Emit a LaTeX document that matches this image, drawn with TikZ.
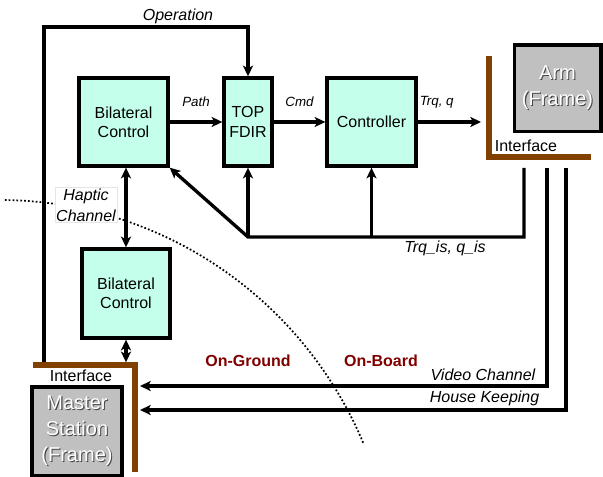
\documentclass[tikz,border=0pt]{standalone}
\usepackage{fontspec}
\setmainfont{Liberation Sans}
\usepackage{xcolor}
\usepackage{tikz}
\usetikzlibrary{arrows.meta}
\usetikzlibrary{positioning, calc}

\definecolor{boxcyan}{RGB}{196,255,236}
\definecolor{framegray}{RGB}{192,192,192}
\definecolor{ifbrown}{RGB}{128,64,0}
\definecolor{sidered}{RGB}{128,0,0}

% white letters with a grey drop shadow
\newcommand{\emb}[1]{\leavevmode\rlap{\hspace{0.8pt}\raisebox{-0.8pt}{\textcolor{gray!55!black}{#1}}}\textcolor{white}{#1}}

\tikzset{
    block/.style={draw, line width=2.5pt, fill=boxcyan, minimum width=66.75pt, minimum height=66pt,
        inner sep=0pt, align=center, font=\fontsize{12}{14.5}\selectfont},
    frame/.style={draw, line width=2.5pt, fill=framegray, minimum width=65pt, minimum height=65pt,
        inner sep=0pt, align=center, font=\fontsize{15}{19.5}\selectfont},
    wire/.style={line width=2.5pt},
    sig/.style={wire, -{Stealth[length=8pt,width=7.5pt,inset=2pt]}},
    bisig/.style={wire, {Stealth[length=8pt,width=7.5pt,inset=2pt]}-{Stealth[length=8pt,width=7.5pt,inset=2pt]}},
    iface/.style={draw=ifbrown, line width=3.8pt},
    lbl/.style={font=\fontsize{12}{15.5}\selectfont\itshape},
    smalllbl/.style={font=\fontsize{10}{12}\selectfont\itshape},
    side/.style={text=sidered, font=\fontsize{12}{14}\selectfont\bfseries},
    dots/.style={line width=1.3pt, dash pattern=on 1.3pt off 1.6pt},
}

\begin{document}
\begin{tikzpicture}[x=0.75pt, y=0.75pt]
    \useasboundingbox (0,0) rectangle (603,477);

    % boundary between ground and board
    \draw[dots] plot[domain=-89.3:-23, samples=90] ({395*cos(\x)}, {-123-400*sin(\x)});
    \node[lbl, fill=white, draw=gray!20, line width=0.4pt, align=center, inner sep=1pt] (hap) at (86,272) {Haptic\\Channel};

    % blocks
    \node[block] (bc1) at (123.5,355) {Bilateral\\Control};
    \node[block, minimum width=36pt] (fdir) at (248,355) {TOP\\FDIR};
    \node[block] (ctrl) at (371.5,355) {Controller};
    \node[block, minimum width=66pt, minimum height=66.75pt] (bc2) at (126,183.5) {Bilateral\\Control};
    \node[frame] (arm) at (557.5,388.5) {\emb{Arm}\\\emb{(Frame)}};
    \node[frame, minimum width=67.5pt, minimum height=66.75pt] (ms) at (77,45.5) {\emb{Master}\\\emb{Station}\\\emb{(Frame)}};

    % interface corners
    \coordinate (armIfTop) at (489,421);
    \coordinate (armIfCorner) at (489,320);
    \coordinate (armIfEnd) at (591,320);
    \coordinate (msIfStart) at (33,112);
    \coordinate (msIfCorner) at (135,112);
    \coordinate (msIfEnd) at (135,5);

    % wire ends
    \coordinate (opFoot) at (44,113);
    \coordinate (opTop) at (248,450);
    \coordinate (trqEnd) at (481,355);
    \coordinate (fbTop) at (524,309);
    \coordinate (fbTurn) at (524,240);
    \coordinate (fbJoin) at (248,240);
    \coordinate (vidTop) at (547,309);
    \coordinate (vidEnd) at (140,91);
    \coordinate (hkTop) at (566,309);
    \coordinate (hkEnd) at (140,67);

    \draw[sig] (opFoot) |- (opTop) -- (fdir.north);
    \node[lbl] (opLbl) at (178,461) {Operation};

    \draw[sig] (bc1) -- (fdir) node[midway, above=7pt, smalllbl] {Path};
    \draw[sig] (fdir) -- (ctrl) node[midway, above=7pt, smalllbl] {Cmd};
    \draw[sig] (ctrl) -- (trqEnd) node[pos=0.3, above=6pt, smalllbl] {Trq, q};

    \draw[sig] (fbTop) -- (fbTurn) -- (fbJoin) -- (bc1.south east);
    \draw[sig] (fbJoin) -- (fdir.south);
    \draw[sig] (ctrl.south |- fbJoin) -- (ctrl.south);
    \node[lbl] (fbLbl) at (445,229) {Trq\_is, q\_is};

    \draw[bisig] (bc2.north |- bc1.south) -- (bc2.north);
    \draw[bisig] (bc2.south) -- ([yshift=2pt]bc2.south |- msIfCorner);

    \draw[sig] (vidTop) |- (vidEnd);
    \node[lbl, anchor=east] (vidLbl) at (540,102) {Video Channel};
    \draw[sig] (hkTop) |- (hkEnd);
    \node[lbl, anchor=east] (hkLbl) at (544,79) {House Keeping};

    % interfaces
    \draw[iface] (armIfTop) -- (armIfCorner) -- (armIfEnd);
    \node[font=\fontsize{12}{14}\selectfont] (armIf) at (526,331) {Interface};
    \draw[iface] (msIfStart) -- (msIfCorner) -- (msIfEnd);
    \node[font=\fontsize{12}{14}\selectfont] (msIf) at (81,101) {Interface};

    \node[side] (gnd) at (248,116) {On-Ground};
    \node[side, right=33pt of gnd] (brd) {On-Board};
\end{tikzpicture}
\end{document}
